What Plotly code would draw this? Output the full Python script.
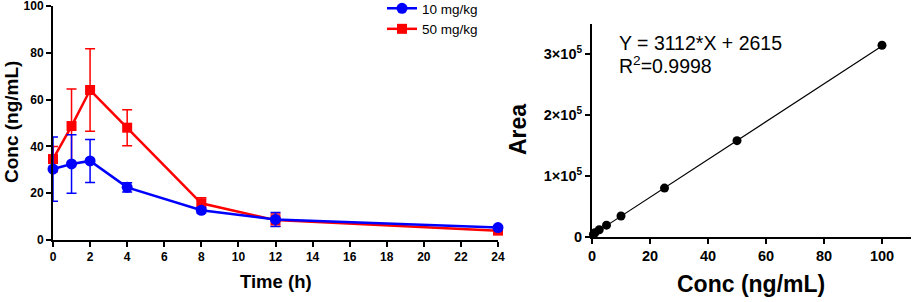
import plotly.graph_objects as go

W, H = 913, 302

# ---- PK data ----
time_h = [0, 1, 2, 4, 8, 12, 24]
conc_10 = [30.3, 32.5, 33.8, 22.5, 12.7, 8.8, 5.3]
err_10 = [13.7, 12.5, 9.2, 2.0, 1.2, 3.0, 0.6]
conc_50 = [34.6, 48.7, 64.1, 48.0, 15.7, 8.5, 4.0]
err_50 = [5.4, 15.8, 17.6, 7.7, 2.4, 2.6, 0.5]

# ---- calibration data ----
cal_conc = [0.5, 1, 2.5, 5, 10, 25, 50, 100]
cal_area = [4000, 6500, 11500, 19000, 34000, 80000, 158000, 315000]
fit_slope = 3112
fit_icpt = 2615
fit_x = [0, 100]

FONT = "Liberation Sans, Arial, sans-serif"

def px(x):
    return x / W

def py(y):
    return 1 - y / H

fig = go.Figure()

fig.add_trace(go.Scatter(
    x=time_h, y=conc_50, name="50 mg/kg", mode="lines+markers",
    line=dict(color="#ff0000", width=2.5),
    marker=dict(symbol="square", size=10, color="#ff0000"),
    error_y=dict(type="data", array=err_50, color="#ff0000", thickness=1.5, width=5),
    cliponaxis=False, legendrank=2, xaxis="x", yaxis="y"))
fig.add_trace(go.Scatter(
    x=time_h, y=conc_10, name="10 mg/kg", mode="lines+markers",
    line=dict(color="#0000ff", width=2.5),
    marker=dict(symbol="circle", size=11, color="#0000ff"),
    error_y=dict(type="data", array=err_10, color="#0000ff", thickness=1.5, width=5),
    cliponaxis=False, legendrank=1, xaxis="x", yaxis="y"))

fig.add_trace(go.Scatter(
    x=fit_x, y=[fit_slope * v + fit_icpt for v in fit_x], mode="lines",
    line=dict(color="black", width=1.2), showlegend=False,
    cliponaxis=False, xaxis="x2", yaxis="y2"))
fig.add_trace(go.Scatter(
    x=cal_conc, y=cal_area, mode="markers",
    marker=dict(symbol="circle", size=9, color="black"), showlegend=False,
    cliponaxis=False, xaxis="x2", yaxis="y2"))

def axis_common(fs):
    return dict(showline=True, linecolor="black", linewidth=2, ticks="outside",
                ticklen=5, tickwidth=2, tickcolor="black", showgrid=False,
                zeroline=False, automargin=False, ticklabeloverflow="allow",
                tickfont=dict(family=FONT, size=fs, color="black", weight="bold"))

fig.update_layout(
    width=W, height=H, margin=dict(l=0, r=0, t=0, b=0, autoexpand=False),
    paper_bgcolor="white", plot_bgcolor="white",
    font=dict(family=FONT, color="black"),
    xaxis=dict(domain=[px(53), px(498)], range=[0, 24], tickvals=list(range(0, 25, 2)),
               anchor="y", **axis_common(12)),
    yaxis=dict(domain=[py(240), py(6)], range=[0, 100], tickvals=[0, 20, 40, 60, 80, 100],
               anchor="x", **axis_common(12)),
    xaxis2=dict(domain=[px(592), px(911)], range=[0, 110], tickvals=[0, 20, 40, 60, 80, 100],
                anchor="y2", **axis_common(14.5)),
    yaxis2=dict(domain=[py(236.7), py(24)], range=[0, 350000],
                tickvals=[0, 100000, 200000, 300000],
                ticktext=["0", "1×10<sup>5</sup>", "2×10<sup>5</sup>", "3×10<sup>5</sup>"],
                anchor="x2", **axis_common(14.5)),
    legend=dict(x=px(382), y=py(-7), xanchor="left", yanchor="top",
                font=dict(family=FONT, size=13.5, color="black"),
                bgcolor="rgba(0,0,0,0)", traceorder="normal"),
)

ann = [
    dict(text="Time (h)", x=px(276), y=py(281), font=dict(size=18.5, weight="bold")),
    dict(text="Conc (ng/mL)", x=px(11), y=py(122), textangle=-90, font=dict(size=19, weight="bold")),
    dict(text="Conc (ng/mL)", x=px(751), y=py(284), font=dict(size=23, weight="bold")),
    dict(text="Area", x=px(518), y=py(130), textangle=-90, font=dict(size=23, weight="bold")),
]
for a in ann:
    a["font"].update(family=FONT, color="black")
    fig.add_annotation(xref="paper", yref="paper", xanchor="center", yanchor="middle",
                       showarrow=False, **a)

fig.add_annotation(text="Y = 3112*X + 2615", xref="paper", yref="paper",
                   x=px(617), y=py(43), xanchor="left", yanchor="middle", showarrow=False,
                   font=dict(family=FONT, size=19.5, color="black"))
fig.add_annotation(text="R<sup>2</sup>=0.9998", xref="paper", yref="paper",
                   x=px(617), y=py(65), xanchor="left", yanchor="middle", showarrow=False,
                   font=dict(family=FONT, size=19.5, color="black"))

fig.write_html("out.html", config={"displayModeBar": False},
               post_script="document.body.style.margin='0';document.body.style.overflow='hidden';")
